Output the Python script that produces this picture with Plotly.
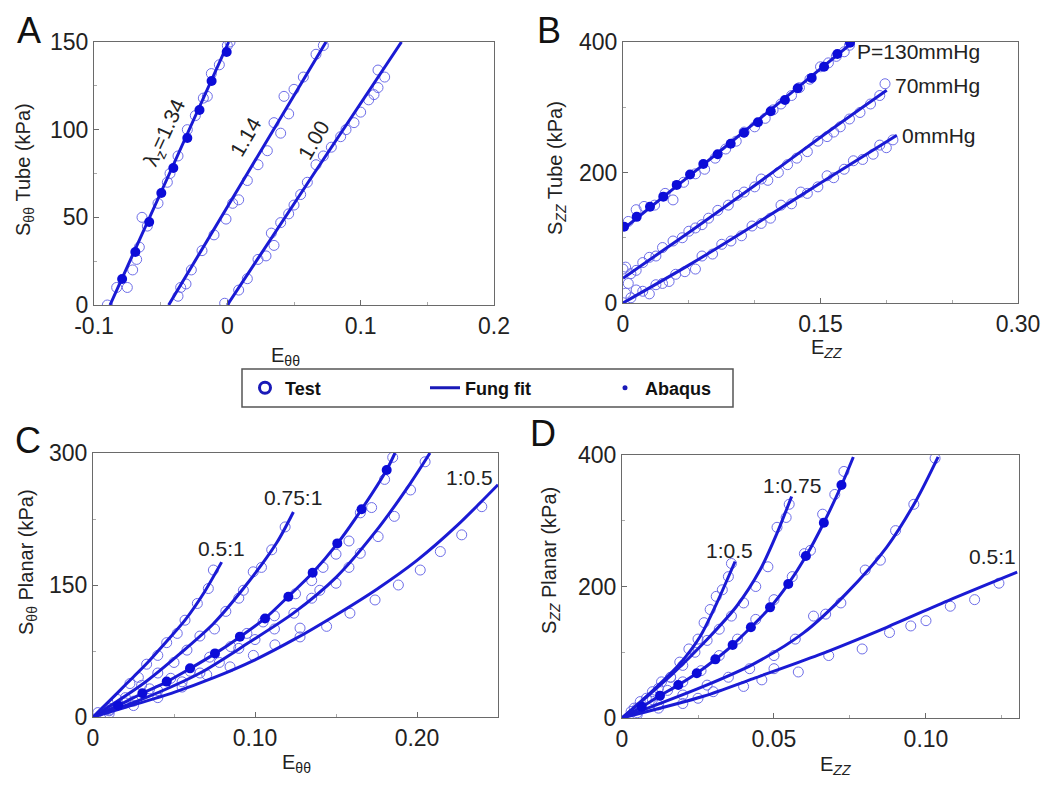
import plotly.graph_objects as go

# ---------------- Panel A (S_tt tube vs E_tt) ----------------
a_fit134_x = [-0.088, -0.044, 0.001]
a_fit134_y = [0, 74, 150]
a_fit114_x = [-0.044, 0.015, 0.074]
a_fit114_y = [0, 75, 150]
a_fit100_x = [0.0, 0.065, 0.1306]
a_fit100_y = [0, 75, 150]
a_aba_x = [-0.0789, -0.069, -0.0586, -0.0495, -0.0405, -0.030, -0.0209, -0.0118, -0.0005]
a_aba_y = [14.8, 30.2, 47.3, 63.9, 78.1, 95.2, 111.2, 127.8, 144.3]
a_t134_x = [-0.090, -0.083, -0.075, -0.071, -0.068, -0.066, -0.064, -0.060, -0.052, -0.045, -0.043,
            -0.037, -0.030, -0.024, -0.018, -0.015, -0.012, -0.006, 0.000, 0.002]
a_t134_y = [0, 10, 10, 20, 26, 33, 50, 45, 58, 70, 75, 85, 100, 108, 118, 119, 132, 137, 148, 150]
a_t114_x = [-0.037, -0.035, -0.031, -0.027, -0.019, -0.010, -0.001, 0.004, 0.0085, 0.015, 0.023,
            0.030, 0.035, 0.040, 0.0425, 0.046, 0.050, 0.057, 0.0665, 0.072]
a_t114_y = [5, 10, 12, 20, 31, 40, 49, 58, 60, 71, 80, 88, 104, 98, 119, 109, 123, 130, 143, 148]
a_t100_x = [-0.002, 0.0085, 0.015, 0.023, 0.029, 0.033, 0.035, 0.040, 0.046, 0.050, 0.055, 0.060,
            0.0665, 0.072, 0.078, 0.085, 0.089, 0.095, 0.100, 0.106, 0.110, 0.113, 0.118, 0.113]
a_t100_y = [1, 8.5, 15, 26, 28, 41, 34, 47, 52, 57, 63, 70, 80, 85, 90, 96, 100, 104, 110, 117,
            120, 134, 130, 124]

# ---------------- Panel B (S_zz tube vs E_zz) ----------------
b_fit130_x = [0, 0.05, 0.10, 0.1747]
b_fit130_y = [113, 194, 276, 400]
b_fit70_x = [0, 0.05, 0.10, 0.15, 0.2003]
b_fit70_y = [38, 108, 180, 254, 326]
b_fit0_x = [0, 0.05, 0.10, 0.15, 0.208]
b_fit0_y = [0, 58, 120, 184, 257]
b_aba_x = [0.0008, 0.0104, 0.0205, 0.0306, 0.0408, 0.0509, 0.061, 0.0719, 0.0818, 0.0919,
           0.1025, 0.1122, 0.123, 0.1327, 0.1433, 0.1527, 0.1628, 0.1724]
b_aba_y = [117, 132, 147.6, 163, 181, 197, 213, 228, 244, 261, 277, 294, 311, 329, 345, 362,
           381.6, 399]
b_t130_x = [0.004, 0.010, 0.016, 0.024, 0.032, 0.038, 0.046, 0.055, 0.062, 0.070, 0.078, 0.086,
            0.092, 0.100, 0.108, 0.114, 0.120, 0.128, 0.134, 0.142, 0.150, 0.156, 0.162, 0.168, 0.172]
b_t130_y = [125, 143, 148, 150, 168, 158, 185, 198, 205, 222, 236, 248, 262, 270, 283, 296, 305,
            318, 330, 343, 362, 368, 378, 385, 395]
b_t70_x = [0.0, 0.002, 0.004, 0.006, 0.010, 0.015, 0.020, 0.025, 0.030, 0.038, 0.045, 0.050,
           0.055, 0.060, 0.065, 0.072, 0.080, 0.087, 0.092, 0.100, 0.105, 0.110, 0.118, 0.125,
           0.132, 0.140, 0.148, 0.155, 0.160, 0.165, 0.172, 0.180, 0.188, 0.195, 0.199]
b_t70_y = [52, 55, 30, 45, 50, 62, 70, 72, 85, 95, 100, 110, 115, 120, 130, 142, 150, 165, 170,
           178, 190, 188, 200, 212, 222, 232, 248, 255, 262, 270, 282, 292, 305, 318, 336]
b_t0_x = [0.002, 0.006, 0.010, 0.015, 0.020, 0.025, 0.030, 0.035, 0.040, 0.047, 0.055, 0.060,
          0.068, 0.075, 0.082, 0.090, 0.098, 0.105, 0.112, 0.120, 0.128, 0.135, 0.140, 0.148,
          0.155, 0.160, 0.168, 0.175, 0.182, 0.190, 0.195, 0.200, 0.205]
b_t0_y = [15, 8, 20, 18, 14, 28, 30, 33, 44, 48, 52, 72, 75, 90, 95, 103, 118, 122, 130, 150, 152,
          170, 168, 178, 195, 192, 205, 218, 220, 228, 242, 238, 250]

# ---------------- Panel C (S_tt planar vs E_tt) ----------------
c_fit05_1_x = [0, 0.010, 0.0208, 0.0333, 0.0455, 0.0568, 0.0681, 0.0794]
c_fit05_1_y = [0, 18, 38, 61, 86, 110, 140, 176]
c_fit075_1_x = [0, 0.0311, 0.0537, 0.0743, 0.0928, 0.1134, 0.1237]
c_fit075_1_y = [0, 38, 72, 106, 146, 198, 233]
c_fit1_1_x = [0, 0.0155, 0.0305, 0.0455, 0.0599, 0.0753, 0.0907, 0.1062, 0.1206, 0.1356, 0.1508,
              0.1658, 0.1813, 0.1864]
c_fit1_1_y = [0, 13, 27, 40, 55, 72, 91, 112, 137, 164, 197, 236, 281, 300]
c_fit1_075_x = [0, 0.030, 0.0661, 0.0957, 0.1237, 0.1502, 0.175, 0.1957, 0.208]
c_fit1_075_y = [0, 20, 50, 84, 118, 159, 212, 265, 300]
c_fit1_05_x = [0, 0.02, 0.05, 0.075, 0.10, 0.125, 0.15, 0.175, 0.20, 0.225, 0.25]
c_fit1_05_y = [0, 11, 28, 45, 65, 89, 116, 145, 178, 218, 264]
c_aba_x = [0.0155, 0.0305, 0.0455, 0.0599, 0.0753, 0.0907, 0.1062, 0.1206, 0.1356, 0.1508,
           0.1658, 0.1813]
c_aba_y = [13, 27, 40.2, 55.3, 72.3, 91.3, 112, 136.7, 164, 197.3, 236, 280.7]
c_t05_1_x = [0.003, 0.008, 0.015, 0.0228, 0.028, 0.0331, 0.040, 0.0455, 0.052, 0.0568, 0.0644,
             0.0712, 0.0743]
c_t05_1_y = [5, 8, 20, 38, 45, 60, 70, 84.5, 95, 110, 129, 146, 167]
c_t075_1_x = [0.010, 0.020, 0.030, 0.040, 0.050, 0.058, 0.066, 0.075, 0.082, 0.090, 0.0928,
              0.0989, 0.1040, 0.1103, 0.1186]
c_t075_1_y = [10, 22, 36, 50, 62, 76, 92, 100, 120, 135, 144, 165, 170, 190, 216]
c_t1_1_x = [0.010, 0.020, 0.035, 0.048, 0.060, 0.072, 0.085, 0.095, 0.105, 0.112, 0.125, 0.135,
            0.142, 0.150, 0.158, 0.165, 0.172, 0.180, 0.185]
c_t1_1_y = [8, 16, 32, 44, 52, 68, 80, 95, 108, 115, 140, 155, 170, 185, 200, 232, 238, 270, 295]
c_t1_075_x = [0.010, 0.025, 0.040, 0.055, 0.066, 0.078, 0.090, 0.100, 0.112, 0.124, 0.135,
              0.140, 0.150, 0.158, 0.165, 0.176, 0.186, 0.196, 0.205]
c_t1_075_y = [7, 18, 30, 40, 50, 62, 78, 88, 100, 118, 135, 144, 152, 170, 186, 205, 228, 258, 290]
c_t1_05_x = [0.010, 0.025, 0.040, 0.055, 0.0702, 0.0846, 0.099, 0.1123, 0.1278, 0.1278, 0.1442,
             0.1586, 0.1741, 0.1885, 0.202, 0.2144, 0.2276, 0.240]
c_t1_05_y = [4, 13, 22, 34, 48, 57, 70, 82, 101, 91, 103, 118, 133, 150, 167, 188, 207, 239]

# ---------------- Panel D (S_zz planar vs E_zz) ----------------
d_fit1_05_x = [0, 0.0104, 0.0191, 0.0257, 0.0311, 0.0372]
d_fit1_05_y = [0, 43, 83, 124, 174, 238]
d_fit1_075_x = [0, 0.0168, 0.0279, 0.0377, 0.0454, 0.0509, 0.0558]
d_fit1_075_y = [0, 68, 119, 170, 225, 280, 337]
d_fit1_1_x = [0, 0.0065, 0.0125, 0.0185, 0.0246, 0.0307, 0.0364, 0.0424, 0.0487, 0.0547, 0.0605,
              0.0664, 0.0722, 0.0761]
d_fit1_1_y = [0, 17, 34, 50, 68, 89, 111, 138, 168, 204, 246, 297, 354, 397]
d_fit075_1_x = [0, 0.0268, 0.0432, 0.0596, 0.0739, 0.0871, 0.0969, 0.104]
d_fit075_1_y = [0, 48, 82, 129, 190, 260, 332, 397]
d_fit05_1_x = [0, 0.0268, 0.0432, 0.0647, 0.0871, 0.109, 0.13]
d_fit05_1_y = [0, 33, 60, 96, 138, 182, 222]
d_aba_x = [0.0065, 0.0125, 0.0185, 0.0246, 0.0307, 0.0364, 0.0424, 0.0487, 0.0547, 0.0605,
           0.0664, 0.0722]
d_aba_y = [17, 34, 50.2, 68, 89.2, 111, 137.9, 168.3, 203.8, 246.4, 297, 354.4]
d_t1_05_x = [0.003, 0.006, 0.010, 0.013, 0.016, 0.019, 0.022, 0.025, 0.027, 0.029, 0.031, 0.033,
             0.035, 0.036]
d_t1_05_y = [10, 25, 40, 55, 62, 85, 105, 120, 145, 165, 185, 195, 215, 235]
d_t1_075_x = [0.004, 0.008, 0.012, 0.016, 0.020, 0.024, 0.028, 0.032, 0.036, 0.040, 0.044, 0.048,
              0.051, 0.054, 0.055]
d_t1_075_y = [15, 30, 45, 62, 80, 100, 118, 135, 155, 175, 200, 230, 290, 305, 325]
d_t1_1_x = [0.005, 0.010, 0.015, 0.020, 0.026, 0.032, 0.038, 0.044, 0.050, 0.056, 0.060, 0.062,
            0.066, 0.070, 0.073]
d_t1_1_y = [15, 28, 42, 55, 72, 95, 120, 150, 180, 215, 250, 255, 310, 340, 375]
d_t075_1_x = [0.005, 0.012, 0.020, 0.028, 0.035, 0.042, 0.050, 0.057, 0.063, 0.067, 0.072, 0.080,
              0.085, 0.090, 0.096, 0.103]
d_t075_1_y = [8, 20, 35, 50, 62, 75, 95, 120, 155, 158, 175, 225, 240, 285, 325, 395]
d_t05_1_x = [0.005, 0.012, 0.020, 0.025, 0.030, 0.040, 0.046, 0.050, 0.058, 0.068, 0.079, 0.088,
             0.095, 0.100, 0.108, 0.116, 0.124]
d_t05_1_y = [5, 15, 22, 30, 40, 48, 58, 75, 70, 95, 105, 130, 140, 148, 170, 180, 205]

legend_names = ["Test", "Fung fit", "Abaqus"]

LINE_C = "#1a1ad4"
TEST_C = "#6e6ee8"
ABA_C = "#0c0cd8"
FONT = "Liberation Sans, Arial, sans-serif"

fig = go.Figure()


def add_fit(x, y, ax):
    fig.add_trace(go.Scatter(x=x, y=y, mode="lines",
                             line=dict(color=LINE_C, width=3, shape="spline", smoothing=0.8),
                             xaxis="x" + ax, yaxis="y" + ax, showlegend=False, hoverinfo="skip"))


def add_test(x, y, ax):
    fig.add_trace(go.Scatter(x=x, y=y, mode="markers",
                             marker=dict(symbol="circle-open", size=10, color=TEST_C, line=dict(width=1)),
                             xaxis="x" + ax, yaxis="y" + ax, showlegend=False))


def add_aba(x, y, ax):
    fig.add_trace(go.Scatter(x=x, y=y, mode="markers", marker=dict(symbol="circle", size=10, color=ABA_C),
                             xaxis="x" + ax, yaxis="y" + ax, showlegend=False))


for tx, ty in [(a_t134_x, a_t134_y), (a_t114_x, a_t114_y), (a_t100_x, a_t100_y)]:
    add_test(tx, ty, "")
for fx, fy in [(a_fit134_x, a_fit134_y), (a_fit114_x, a_fit114_y), (a_fit100_x, a_fit100_y)]:
    add_fit(fx, fy, "")
add_aba(a_aba_x, a_aba_y, "")

for tx, ty in [(b_t130_x, b_t130_y), (b_t70_x, b_t70_y), (b_t0_x, b_t0_y)]:
    add_test(tx, ty, "2")
for fx, fy in [(b_fit130_x, b_fit130_y), (b_fit70_x, b_fit70_y), (b_fit0_x, b_fit0_y)]:
    add_fit(fx, fy, "2")
add_aba(b_aba_x, b_aba_y, "2")

for tx, ty in [(c_t05_1_x, c_t05_1_y), (c_t075_1_x, c_t075_1_y), (c_t1_1_x, c_t1_1_y),
               (c_t1_075_x, c_t1_075_y), (c_t1_05_x, c_t1_05_y)]:
    add_test(tx, ty, "3")
for fx, fy in [(c_fit05_1_x, c_fit05_1_y), (c_fit075_1_x, c_fit075_1_y), (c_fit1_1_x, c_fit1_1_y),
               (c_fit1_075_x, c_fit1_075_y), (c_fit1_05_x, c_fit1_05_y)]:
    add_fit(fx, fy, "3")
add_aba(c_aba_x, c_aba_y, "3")

for tx, ty in [(d_t1_05_x, d_t1_05_y), (d_t1_075_x, d_t1_075_y), (d_t1_1_x, d_t1_1_y),
               (d_t075_1_x, d_t075_1_y), (d_t05_1_x, d_t05_1_y)]:
    add_test(tx, ty, "4")
for fx, fy in [(d_fit1_05_x, d_fit1_05_y), (d_fit1_075_x, d_fit1_075_y), (d_fit1_1_x, d_fit1_1_y),
               (d_fit075_1_x, d_fit075_1_y), (d_fit05_1_x, d_fit05_1_y)]:
    add_fit(fx, fy, "4")
add_aba(d_aba_x, d_aba_y, "4")

# Legend entries
fig.add_trace(go.Scatter(x=[None], y=[None], mode="markers", name=legend_names[0],
                         marker=dict(symbol="circle-open", size=11, color="#1a1ab8", line=dict(width=3))))
fig.add_trace(go.Scatter(x=[None], y=[None], mode="lines", name=legend_names[1],
                         line=dict(color="#1a1ab8", width=3)))
fig.add_trace(go.Scatter(x=[None], y=[None], mode="markers", name=legend_names[2],
                         marker=dict(symbol="circle", size=5, color="#1a1ab8")))

AX_LINE = "#6a6a6a"
TICKF = dict(family=FONT, size=23, color="#222")
TITLEF = dict(family=FONT, size=20, color="#222")

# The page adds an 8px body margin, so the figure is 16px smaller and every
# reference pixel position is shifted by 8px.
OFF = 8
W, H = 1050 - 2 * OFF, 788 - 2 * OFF


def px_x(p):
    return (p - OFF) / W


def px_y(p):
    return 1 - (p - OFF) / H


def axis(domain, rng, tickvals, ticktext, anchor, minor_dtick):
    return dict(domain=domain, range=rng, tickvals=tickvals, ticktext=ticktext, anchor=anchor,
                automargin=False,
                showgrid=False, zeroline=False, showline=True, linecolor=AX_LINE, linewidth=1.2,
                mirror=True, ticks="inside", ticklen=5, tickcolor=AX_LINE, tickfont=TICKF,
                minor=dict(ticks="inside", dtick=minor_dtick, ticklen=3, tickcolor="#aaa"))


fig.update_layout(
    width=W, height=H, margin=dict(l=0, r=0, t=0, b=0, autoexpand=False),
    paper_bgcolor="white", plot_bgcolor="white",
    font=dict(family=FONT, color="#222"),
    xaxis=axis([px_x(94), px_x(494)], [-0.1, 0.2], [-0.1, 0, 0.1, 0.2], ["-0.1", "0", "0.1", "0.2"],
               "y", 0.05),
    yaxis=axis([px_y(305), px_y(42)], [0, 150], [0, 50, 100, 150], ["0", "50", "100", "150"],
               "x", 25),
    xaxis2=axis([px_x(623), px_x(1018)], [0, 0.30], [0, 0.15, 0.30], ["0", "0.15", "0.30"],
                "y2", 0.05),
    yaxis2=axis([px_y(303), px_y(42)], [0, 400], [0, 200, 400], ["0", "200", "400"],
                "x2", 100),
    xaxis3=axis([px_x(93), px_x(498)], [0, 0.25], [0, 0.10, 0.20], ["0", "0.10", "0.20"],
                "y3", 0.05),
    yaxis3=axis([px_y(717), px_y(453)], [0, 300], [0, 150, 300], ["0", "150", "300"],
                "x3", 75),
    xaxis4=axis([px_x(622), px_x(1019)], [0, 0.1306], [0, 0.05, 0.10], ["0", "0.05", "0.10"],
                "y4", 0.025),
    yaxis4=axis([px_y(718), px_y(455)], [0, 400], [0, 200, 400], ["0", "200", "400"],
                "x4", 100),
    showlegend=True,
    legend=dict(orientation="h", x=px_x(245), y=px_y(388), xanchor="left", yanchor="middle",
                entrywidth=135, entrywidthmode="pixels", bgcolor="rgba(0,0,0,0)",
                font=dict(family=FONT, size=18, color="#111", weight="bold")),
)

fig.add_shape(type="rect", xref="paper", yref="paper", x0=px_x(242), x1=px_x(733), y0=px_y(407), y1=px_y(369),
              line=dict(color="#555", width=1.5), fillcolor="rgba(0,0,0,0)")

# axis titles (paper-positioned)
titles = [
    ("S<sub>θθ</sub> Tube (kPa)", 25, 170, -90),
    ("S<sub><i>ZZ</i></sub> Tube (kPa)", 557, 168, -90),
    ("S<sub>θθ</sub> Planar (kPa)", 27, 562, -90),
    ("S<sub><i>ZZ</i></sub> Planar (kPa)", 550, 561, -90),
    ("E<sub>θθ</sub>", 285, 356, 0),
    ("E<sub><i>ZZ</i></sub>", 826, 348, 0),
    ("E<sub>θθ</sub>", 296, 763, 0),
    ("E<sub><i>ZZ</i></sub>", 835, 765, 0),
]
for txt, cx, cy, ang in titles:
    fig.add_annotation(x=px_x(cx), y=px_y(cy), xref="paper", yref="paper", text=txt, showarrow=False,
                       textangle=ang, xanchor="center", yanchor="middle", font=TITLEF)

LBL = dict(family=FONT, size=21, color="#222")
annos = [
    dict(x=-0.0465, y=98, xref="x", yref="y", text="λ<sub>z</sub>=1.34", textangle=-65),
    dict(x=0.0138, y=96, xref="x", yref="y", text="1.14", textangle=-60),
    dict(x=0.0643, y=94, xref="x", yref="y", text="1.00", textangle=-60),
    dict(x=0.176, y=385, xref="x2", yref="y2", text="P=130mmHg", xanchor="left"),
    dict(x=0.205, y=334, xref="x2", yref="y2", text="70mmHg", xanchor="left"),
    dict(x=0.2104, y=257, xref="x2", yref="y2", text="0mmHg", xanchor="left"),
    dict(x=0.0796, y=192, xref="x3", yref="y3", text="0.5:1"),
    dict(x=0.1235, y=249, xref="x3", yref="y3", text="0.75:1"),
    dict(x=0.1815, y=312, xref="x3", yref="y3", text="1:1"),
    dict(x=0.216, y=312, xref="x3", yref="y3", text="1:0.75"),
    dict(x=0.2327, y=272, xref="x3", yref="y3", text="1:0.5"),
    dict(x=0.0355, y=255, xref="x4", yref="y4", text="1:0.5"),
    dict(x=0.0559, y=354, xref="x4", yref="y4", text="1:0.75"),
    dict(x=0.076, y=415, xref="x4", yref="y4", text="1:1"),
    dict(x=0.1063, y=418, xref="x4", yref="y4", text="0.75:1"),
    dict(x=0.122, y=245, xref="x4", yref="y4", text="0.5:1"),
]
for a in annos:
    a.setdefault("showarrow", False)
    a.setdefault("xanchor", "center")
    a["yanchor"] = "middle"
    a["font"] = LBL
    fig.add_annotation(**a)

for letter, cx, cy in [("A", 29, 31), ("B", 549, 31), ("C", 28, 440), ("D", 543, 434)]:
    fig.add_annotation(x=px_x(cx), y=px_y(cy), xref="paper", yref="paper", text=letter, showarrow=False,
                       xanchor="center", yanchor="middle",
                       font=dict(family=FONT, size=36, color="#111"))

fig.write_html("out.html")
